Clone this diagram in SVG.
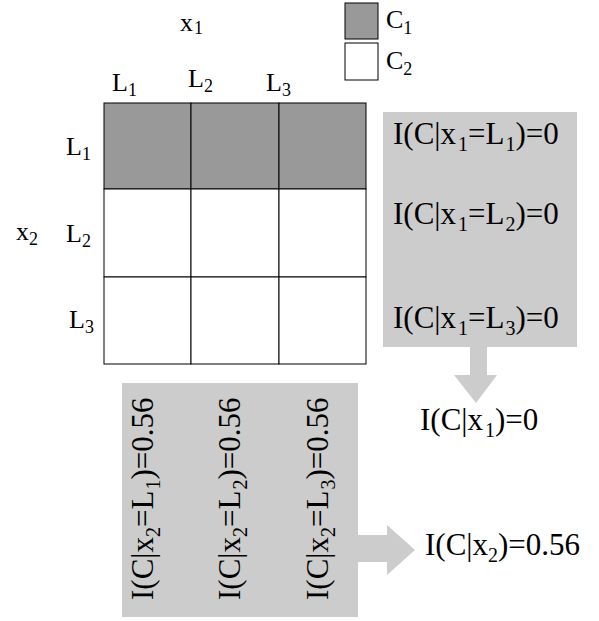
<svg xmlns="http://www.w3.org/2000/svg" width="599" height="621" viewBox="0 0 599 621">
<style>
text{font-family:"Liberation Serif","Times New Roman",serif;fill:#000}
.lab{font-size:26px}
.big{font-size:31px}
.sub{font-size:18px}
.bsub{font-size:20px}
.panel{fill:#cccccc}
.cell{stroke:#000;stroke-width:1}
.arrow{fill:#cccccc}
</style>
<g id="legend">
<rect x="345" y="3" width="33" height="36" fill="#999999" stroke="#000"/>
<rect x="345" y="43" width="33" height="37" fill="#ffffff" stroke="#000"/>
<text class="lab" x="386" y="28">C<tspan class="sub" dy="6">1</tspan></text>
<text class="lab" x="386" y="69">C<tspan class="sub" dy="6">2</tspan></text>
</g>
<g id="axis-labels">
<text class="lab" x="180" y="31">x<tspan class="sub" dx="1" dy="3">1</tspan></text>
<text class="lab" x="16" y="240">x<tspan class="sub" dy="5">2</tspan></text>
<text class="lab" x="112" y="91">L<tspan class="sub" dy="5">1</tspan></text>
<text class="lab" x="188" y="87">L<tspan class="sub" dy="5">2</tspan></text>
<text class="lab" x="266" y="91">L<tspan class="sub" dy="5">3</tspan></text>
<text class="lab" x="66" y="155">L<tspan class="sub" dy="5">1</tspan></text>
<text class="lab" x="66" y="242">L<tspan class="sub" dy="5">2</tspan></text>
<text class="lab" x="69" y="328">L<tspan class="sub" dy="5">3</tspan></text>
</g>
<g id="grid">
<rect class="cell" x="104" y="103" width="87" height="86" fill="#999999"/>
<rect class="cell" x="191" y="103" width="88" height="86" fill="#999999"/>
<rect class="cell" x="279" y="103" width="87" height="86" fill="#999999"/>
<rect class="cell" x="104" y="189" width="87" height="88" fill="#ffffff"/>
<rect class="cell" x="191" y="189" width="88" height="88" fill="#ffffff"/>
<rect class="cell" x="279" y="189" width="87" height="88" fill="#ffffff"/>
<rect class="cell" x="104" y="277" width="87" height="87" fill="#ffffff"/>
<rect class="cell" x="191" y="277" width="88" height="87" fill="#ffffff"/>
<rect class="cell" x="279" y="277" width="87" height="87" fill="#ffffff"/>
</g>
<g id="panel-x1">
<rect class="panel" x="383" y="112" width="194" height="235"/>
<text class="big" x="393" y="144">I(C|x<tspan class="bsub" dx="2" dy="7">1</tspan><tspan dy="-7">=L</tspan><tspan class="bsub" dx="1" dy="7">1</tspan><tspan dy="-7">)=0</tspan></text>
<text class="big" x="393" y="224">I(C|x<tspan class="bsub" dx="2" dy="7">1</tspan><tspan dy="-7">=L</tspan><tspan class="bsub" dx="1" dy="7">2</tspan><tspan dy="-7">)=0</tspan></text>
<text class="big" x="393" y="328">I(C|x<tspan class="bsub" dx="2" dy="7">1</tspan><tspan dy="-7">=L</tspan><tspan class="bsub" dx="1" dy="7">3</tspan><tspan dy="-7">)=0</tspan></text>
</g>
<g id="panel-x2">
<rect class="panel" x="122" y="383" width="236" height="234"/>
<text class="big" transform="translate(153,600) rotate(-90)">I(C|x<tspan class="bsub" dy="7">2</tspan><tspan dy="-7">=L</tspan><tspan class="bsub" dx="1" dy="7">1</tspan><tspan dy="-7">)=0.56</tspan></text>
<text class="big" transform="translate(240,600) rotate(-90)">I(C|x<tspan class="bsub" dy="7">2</tspan><tspan dy="-7">=L</tspan><tspan class="bsub" dx="1" dy="7">2</tspan><tspan dy="-7">)=0.56</tspan></text>
<text class="big" transform="translate(328,600) rotate(-90)">I(C|x<tspan class="bsub" dy="7">2</tspan><tspan dy="-7">=L</tspan><tspan class="bsub" dx="1" dy="7">3</tspan><tspan dy="-7">)=0.56</tspan></text>
</g>
<g id="result-x1">
<text class="big" x="420" y="430">I(C|x<tspan class="bsub" dx="2" dy="7">1</tspan><tspan dy="-7">)=0</tspan></text>
</g>
<g id="result-x2">
<text class="big" x="425" y="555">I(C|x<tspan class="bsub" dy="7">2</tspan><tspan dy="-7">)=0.56</tspan></text>
</g>
<g id="connectors">
<polygon class="arrow" points="470,347 487,347 487,375 497,375 476,403 454,375 470,375"/>
<polygon class="arrow" points="357,535 387,535 387,525 415,550 387,575 387,562 357,562"/>
</g>
</svg>
